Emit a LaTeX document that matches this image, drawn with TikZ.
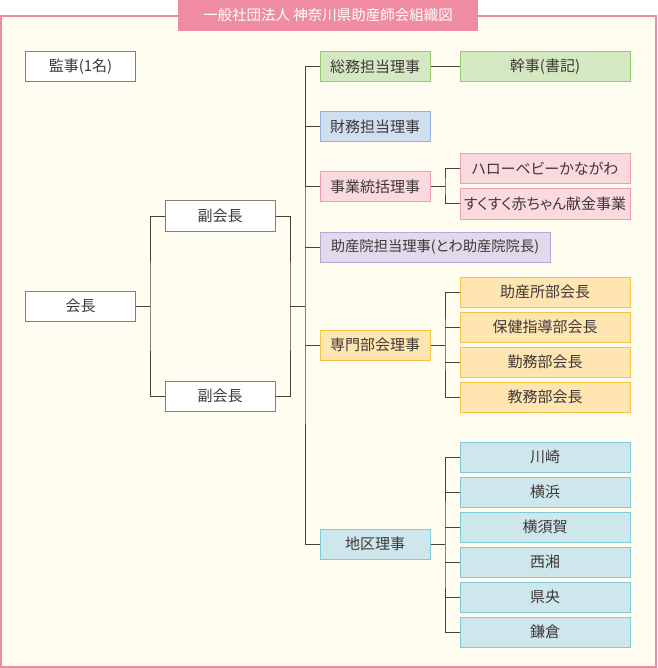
\documentclass[tikz,border=0pt]{standalone}
\usepackage{fontspec}
\setmainfont{Noto Sans CJK JP}[RawFeature=+palt]
\definecolor{bgcream}{HTML}{FFFDF0}
\definecolor{framepink}{HTML}{EF8CA1}
\definecolor{txtgray}{HTML}{403838}
\definecolor{linebrown}{HTML}{4B3F37}
\definecolor{wbord}{HTML}{8B7B73}
\definecolor{gfill}{HTML}{D4E8C2}\definecolor{gbord}{HTML}{92CD6E}
\definecolor{bfill}{HTML}{CFDEF1}\definecolor{bbord}{HTML}{8FB5E3}
\definecolor{pfill}{HTML}{FAD9DF}\definecolor{pbord}{HTML}{F29DB1}
\definecolor{vfill}{HTML}{E2D9EB}\definecolor{vbord}{HTML}{BCA6D4}
\definecolor{ofill}{HTML}{FEE5B2}\definecolor{obord}{HTML}{F6C245}
\definecolor{cfill}{HTML}{CDE7EC}\definecolor{cbord}{HTML}{7FCBD7}
\tikzset{
  bx/.style={draw, line width=1pt, minimum height=30pt, inner sep=0pt, text=txtgray, font=\fontsize{15pt}{17pt}\selectfont},
  wbox/.style={bx, draw=wbord, fill=white, minimum width=110pt},
  colA/.style={bx, minimum width=110pt},
  colB/.style={bx, minimum width=170pt},
  gbx/.style={draw=gbord, fill=gfill},
  bbx/.style={draw=bbord, fill=bfill},
  pbx/.style={draw=pbord, fill=pfill},
  vbx/.style={draw=vbord, fill=vfill},
  obx/.style={draw=obord, fill=ofill},
  cbx/.style={draw=cbord, fill=cfill},
  conn/.style={draw=linebrown, line width=1pt},
}
\begin{document}
\begin{tikzpicture}[x=1pt,y=-1pt]
\useasboundingbox (0,0) rectangle (657,668);
\draw[draw=framepink, fill=bgcream, line width=2pt] (1,16) rectangle (656,667);
\node[fill=framepink, minimum width=300pt, minimum height=31pt, inner sep=0pt, text=white, font=\fontsize{14.5pt}{16pt}\selectfont] (title) at (328,15.5) {一般社団法人 神奈川県助産師会組織図};

\node[wbox] (kansa) at (80.5,67) {監事(1名)};
\node[wbox] (kaicho) at (80.5,306) {会長};
\node[wbox] (fuku1) at (220,216) {副会長};
\node[wbox] (fuku2) at (220,396) {副会長};

\node[colA,gbx] (somu) at (375,67) {総務担当理事};
\node[colA,bbx] (zaimu) at (375,127) {財務担当理事};
\node[colA,pbx] (jigyo) at (375,187) {事業統括理事};
\node[bx,vbx,minimum width=230pt,font=\fontsize{14.3pt}{17pt}\selectfont] (josanin) at (435,247) {助産院担当理事(とわ助産院院長)};
\node[colA,obx] (senmon) at (375,345) {専門部会理事};
\node[colA,cbx] (chiku) at (375,544) {地区理事};

\node[colB,gbx] (kanji) at (545,67) {幹事(書記)};
\node[colB,pbx] (hello) at (545,169) {ハローベビーかながわ};
\node[colB,pbx] (suku) at (545,204) {すくすく赤ちゃん献金事業};
\node[colB,obx] (o1) at (545,292) {助産所部会長};
\node[colB,obx] (o2) at (545,327) {保健指導部会長};
\node[colB,obx] (o3) at (545,362) {勤務部会長};
\node[colB,obx] (o4) at (545,397) {教務部会長};
\node[colB,cbx] (c1) at (545,457) {川崎};
\node[colB,cbx] (c2) at (545,492) {横浜};
\node[colB,cbx] (c3) at (545,527) {横須賀};
\node[colB,cbx] (c4) at (545,562) {西湘};
\node[colB,cbx] (c5) at (545,597) {県央};
\node[colB,cbx] (c6) at (545,632) {鎌倉};

\coordinate (j1) at (150,306);
\coordinate (j2) at (290,306);
\coordinate (j3) at (305,306);
\coordinate (j4) at (445,187);
\coordinate (j5) at (445,345);
\coordinate (j6) at (445,544);

\draw[conn] (kaicho.east) -- (j1);
\draw[conn] (fuku1.west) -| (j1) |- (fuku2.west);
\draw[conn] (fuku1.east) -| (j2) |- (fuku2.east);
\draw[conn] (j2) -- (j3);
\draw[conn] (somu.west) -| (j3) |- (chiku.west);
\draw[conn] (zaimu.west) -- (zaimu.west -| j3);
\draw[conn] (jigyo.west) -- (jigyo.west -| j3);
\draw[conn] (josanin.west) -- (josanin.west -| j3);
\draw[conn] (senmon.west) -- (senmon.west -| j3);

\draw[conn] (somu.east) -- (kanji.west);

\draw[conn] (jigyo.east) -- (j4);
\draw[conn] (hello.west) -| (j4) |- (suku.west);

\draw[conn] (senmon.east) -- (j5);
\draw[conn] (o1.west) -| (j5) |- (o4.west);
\draw[conn] (o2.west) -- (o2.west -| j5);
\draw[conn] (o3.west) -- (o3.west -| j5);

\draw[conn] (chiku.east) -- (j6);
\draw[conn] (c1.west) -| (j6) |- (c6.west);
\foreach \n in {c2,c3,c4,c5} { \draw[conn] (\n.west) -- (\n.west -| j6); }
\end{tikzpicture}
\end{document}
